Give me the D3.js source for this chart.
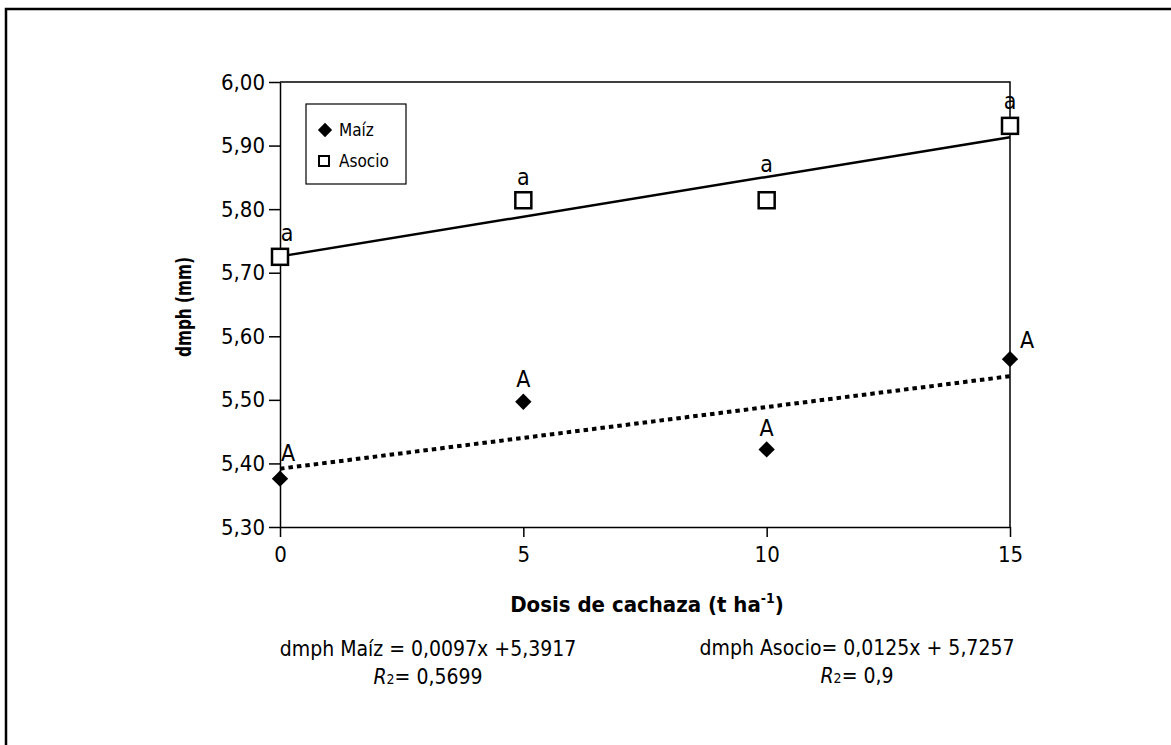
<!DOCTYPE html>
<html>
<head>
<meta charset="utf-8">
<script src="https://cdn.jsdelivr.net/npm/d3@7"></script>
<style>
  body { margin: 0; background: #fff; }
  text { font-family: "Liberation Sans Narrow", "DejaVu Sans Condensed", sans-serif; fill: #000; }
</style>
</head>
<body>
<div id="chart"></div>
<script>
// data
let doses = [0, 5, 10, 15];
let maiz = [5.376, 5.497, 5.422, 5.564];
let asocio = [5.725, 5.814, 5.814, 5.931];
let maizLetters = ["A", "A", "A", "A"];
let asocioLetters = ["a", "a", "a", "a"];
let yTicks = [5.3, 5.4, 5.5, 5.6, 5.7, 5.8, 5.9, 6.0];
let xTicks = [0, 5, 10, 15];
// regression coefficients [slope, intercept]
let maizFit = [0.0097, 5.3917];
let asocioFit = [0.0125, 5.7257];

// label nudges (layout only)
let maizNudge = [[8, -18], [0, -15], [0, -13], [17, -11]];
let asocioNudge = [[7, -16], [0, -15], [0, -28], [0, -17]];

let W = 1171, H = 745;
let svg = d3.select("#chart").append("svg")
    .attr("width", W)
    .attr("height", H);

// outer frame (cut by the page edges)
svg.append("rect")
    .attr("x", 6).attr("y", 9)
    .attr("width", W + 20).attr("height", H + 20)
    .attr("fill", "none").attr("stroke", "#000").attr("stroke-width", 2.5);

let x = d3.scaleLinear().domain([0, 15]).range([280, 1010]);
let y = d3.scaleLinear().domain([5.3, 6.0]).range([527, 82]);

let loc = d3.formatLocale({decimal: ",", thousands: ".", grouping: [3], currency: ["", ""]});
let fmt = loc.format(".2f");

// plot box top + right
svg.append("path")
    .attr("d", `M${x(0)},${y(6)}H${x(15)}V${y(5.3)}`)
    .attr("fill", "none").attr("stroke", "#000").attr("stroke-width", 1.5);

let yAxis = svg.append("g")
    .attr("transform", `translate(${x(0)},0)`)
    .call(d3.axisLeft(y).tickValues(yTicks).tickFormat(fmt).tickSize(11).tickSizeOuter(0).tickPadding(4));

let xAxis = svg.append("g")
    .attr("transform", `translate(0,${y(5.3)})`)
    .call(d3.axisBottom(x).tickValues(xTicks).tickSize(10).tickSizeOuter(0).tickPadding(9));

[yAxis, xAxis].forEach(function(g) {
    g.selectAll("path, line").attr("stroke", "#000").attr("stroke-width", 1.5);
    g.selectAll("text").attr("font-size", "22px").attr("fill", "#000")
        .style("font-family", '"Liberation Sans Narrow", "DejaVu Sans Condensed", sans-serif');
});

// regression lines
let lineGen = d3.line().x(d => x(d[0])).y(d => y(d[1]));
svg.append("path")
    .datum([[0, asocioFit[1]], [15, asocioFit[0] * 15 + asocioFit[1]]])
    .attr("d", lineGen)
    .attr("fill", "none").attr("stroke", "#000").attr("stroke-width", 2.5);
svg.append("path")
    .datum([[0, maizFit[1]], [15, maizFit[0] * 15 + maizFit[1]]])
    .attr("d", lineGen)
    .attr("fill", "none").attr("stroke", "#000").attr("stroke-width", 4)
    .attr("stroke-dasharray", "4.5,4");

// markers
let diamond = d3.symbol().type(d3.symbolDiamond2).size(170);
svg.selectAll(".maiz")
    .data(doses)
    .enter()
    .append("path")
    .attr("class", "maiz")
    .attr("d", diamond)
    .attr("transform", (d, i) => `translate(${x(d)},${y(maiz[i])})`)
    .attr("fill", "#000");

svg.selectAll(".asocio")
    .data(doses)
    .enter()
    .append("rect")
    .attr("class", "asocio")
    .attr("x", d => x(d) - 8)
    .attr("y", (d, i) => y(asocio[i]) - 8)
    .attr("width", 16).attr("height", 16)
    .attr("fill", "#fff").attr("stroke", "#000").attr("stroke-width", 2.5);

// significance letters
svg.selectAll(".lblM")
    .data(doses)
    .enter()
    .append("text")
    .attr("x", (d, i) => x(d) + maizNudge[i][0])
    .attr("y", (d, i) => y(maiz[i]) + maizNudge[i][1])
    .attr("text-anchor", "middle")
    .attr("font-size", "23px")
    .text((d, i) => maizLetters[i]);

svg.selectAll(".lblA")
    .data(doses)
    .enter()
    .append("text")
    .attr("x", (d, i) => x(d) + asocioNudge[i][0])
    .attr("y", (d, i) => y(asocio[i]) + asocioNudge[i][1])
    .attr("text-anchor", "middle")
    .attr("font-size", "23px")
    .text((d, i) => asocioLetters[i]);

// legend
let lg = svg.append("g");
lg.append("rect")
    .attr("x", 306).attr("y", 104).attr("width", 100).attr("height", 80)
    .attr("fill", "#fff").attr("stroke", "#000").attr("stroke-width", 1.2);
lg.append("path")
    .attr("d", d3.symbol().type(d3.symbolDiamond2).size(130))
    .attr("transform", "translate(325,130)")
    .attr("fill", "#000");
lg.append("rect")
    .attr("x", 319).attr("y", 156).attr("width", 10).attr("height", 10)
    .attr("fill", "#fff").attr("stroke", "#000").attr("stroke-width", 2);
lg.append("text").attr("x", 339).attr("y", 136).attr("font-size", "17px").text("Maíz");
lg.append("text").attr("x", 339).attr("y", 167).attr("font-size", "17px").text("Asocio");

// axis titles
svg.append("text")
    .attr("transform", "translate(191,307) rotate(-90)")
    .attr("text-anchor", "middle")
    .attr("font-size", "22px").attr("font-weight", "bold")
    .attr("textLength", 100).attr("lengthAdjust", "spacingAndGlyphs")
    .text("dmph (mm)");

let xt = svg.append("text")
    .attr("x", 647).attr("y", 612)
    .attr("text-anchor", "middle")
    .attr("font-size", "22px").attr("font-weight", "bold");
xt.append("tspan").text("Dosis de cachaza (t ha");
xt.append("tspan").attr("font-size", "14px").attr("dy", -9).text("-1");
xt.append("tspan").attr("dy", 9).text(")");

// equations
function equation(cx, y1, line1, r2) {
    svg.append("text")
        .attr("x", cx).attr("y", y1)
        .attr("text-anchor", "middle")
        .attr("font-size", "21px")
        .text(line1);
    let t = svg.append("text")
        .attr("x", cx).attr("y", y1 + 28)
        .attr("text-anchor", "middle")
        .attr("font-size", "21px");
    t.append("tspan").attr("font-style", "italic").text("R");
    t.append("tspan").attr("font-size", "14px").text("2");
    t.append("tspan").text("= " + r2);
}
equation(428, 656, "dmph Maíz = 0,0097x +5,3917", "0,5699");
equation(857, 655, "dmph Asocio= 0,0125x + 5,7257", "0,9");
</script>
</body>
</html>
